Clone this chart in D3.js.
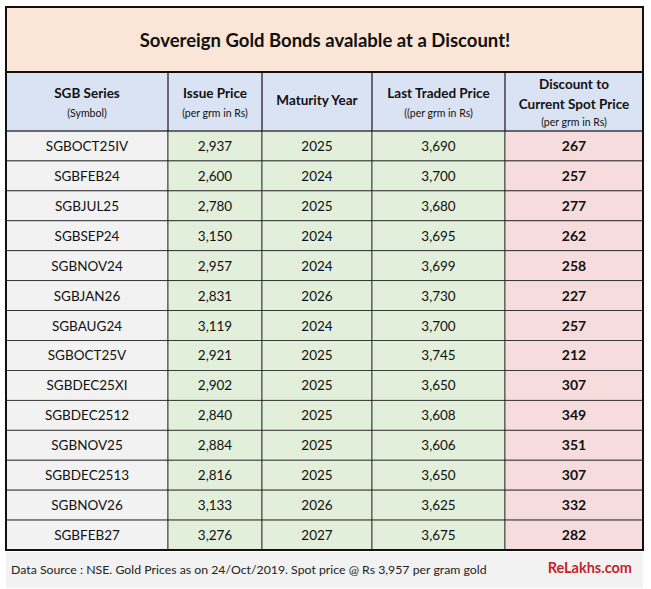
<!DOCTYPE html>
<html><head><meta charset="utf-8">
<script src="https://cdn.jsdelivr.net/npm/d3@7"></script>
<style>body{margin:0;background:#fff}text{font-family:Lato,"Open Sans",sans-serif}</style>
</head><body><div id="chart"></div>
<script>
var series = ["SGBOCT25IV","SGBFEB24","SGBJUL25","SGBSEP24","SGBNOV24","SGBJAN26","SGBAUG24","SGBOCT25V","SGBDEC25XI","SGBDEC2512","SGBNOV25","SGBDEC2513","SGBNOV26","SGBFEB27"];
var issuePrice = [2937,2600,2780,3150,2957,2831,3119,2921,2902,2840,2884,2816,3133,3276];
var maturity = [2025,2024,2025,2024,2024,2026,2024,2025,2025,2025,2025,2025,2026,2027];
var lastTraded = [3690,3700,3680,3695,3699,3730,3700,3745,3650,3608,3606,3650,3625,3675];
var discount = [267,257,277,262,258,227,257,212,307,349,351,307,332,282];
var headers = [["SGB Series","(Symbol)"],["Issue Price","(per grm in Rs)"],["Maturity Year"],["Last Traded Price","((per grm in Rs)"],["Discount to","Current Spot Price","(per grm in Rs)"]];
var colEdges = [6,168,262,372,505,643];
var fills = ["#f2f2f2","#e2efda","#e2efda","#e2efda","#f6dcdc"];

var W = 651, H = 589;
var svg = d3.select("#chart").append("svg").attr("width", W).attr("height", H);
var fmt = d3.format(",");

var y = d3.scaleBand().domain(d3.range(series.length)).range([131, 550]);
var cols = d3.range(5);

// footer band
svg.append("rect").attr("x",6).attr("y",552).attr("width",637).attr("height",36).attr("fill","#f2f2f2");
// title
svg.append("rect").attr("x",6).attr("y",7).attr("width",637).attr("height",65).attr("fill","#fbe5d6");
svg.append("text").attr("x",325).attr("y",47).attr("text-anchor","middle").attr("font-size",18.5).attr("font-weight",700).attr("fill","#111").text("Sovereign Gold Bonds avalable at a Discount!");

// header
var hdr = svg.selectAll(".hdr").data(headers).enter().append("g");
hdr.append("rect").attr("x",(d,i)=>colEdges[i]).attr("y",72).attr("width",(d,i)=>colEdges[i+1]-colEdges[i]).attr("height",59).attr("fill","#dae3f3");
hdr.each(function(d,i){
  var cx = (colEdges[i]+colEdges[i+1])/2;
  var ys = d.length==1 ? [105] : d.length==2 ? [98,117] : [89,109,126];
  d.forEach(function(t,k){
    var small = t.startsWith("(");
    d3.select(this).append("text").attr("x",cx).attr("y",ys[k]).attr("text-anchor","middle")
      .attr("font-size",small?10.5:13.5).attr("font-weight",small?400:700).attr("fill","#111").text(t);
  }, this);
});

// body cells
var rows = series.map((s,i)=>[s,fmt(issuePrice[i]),String(maturity[i]),fmt(lastTraded[i]),String(discount[i])]);
var row = svg.selectAll(".row").data(rows).enter().append("g").attr("transform",(d,i)=>"translate(0,"+y(i)+")");
cols.forEach(function(c){
  row.append("rect").attr("x",colEdges[c]).attr("width",colEdges[c+1]-colEdges[c]).attr("height",y.bandwidth()).attr("fill",fills[c]).attr("stroke","#222").attr("stroke-width",0.8);
  row.append("text").attr("x",(colEdges[c]+colEdges[c+1])/2).attr("y",y.bandwidth()/2+5).attr("text-anchor","middle")
    .attr("font-size",c==4?14:13.5).attr("font-weight",c==4?700:400).attr("fill","#111").text(d=>d[c]);
});
// header grid
cols.forEach(function(c){
  svg.append("rect").attr("x",colEdges[c]).attr("y",72).attr("width",colEdges[c+1]-colEdges[c]).attr("height",59).attr("fill","none").attr("stroke","#222").attr("stroke-width",0.8);
});
// outer border
svg.append("rect").attr("x",6).attr("y",7).attr("width",637).attr("height",543).attr("fill","none").attr("stroke","#111").attr("stroke-width",2);
svg.append("line").attr("x1",6).attr("x2",643).attr("y1",72).attr("y2",72).attr("stroke","#111").attr("stroke-width",2);

// footer
svg.append("text").attr("x",11).attr("y",574).attr("font-size",12.3).attr("fill","#222").text("Data Source : NSE. Gold Prices as on 24/Oct/2019. Spot price @ Rs 3,957 per gram gold");
svg.append("text").attr("x",632).attr("y",573).attr("text-anchor","end").attr("font-size",14.5).attr("font-weight",700).attr("fill","#c0272d").text("ReLakhs.com");
</script></body></html>
